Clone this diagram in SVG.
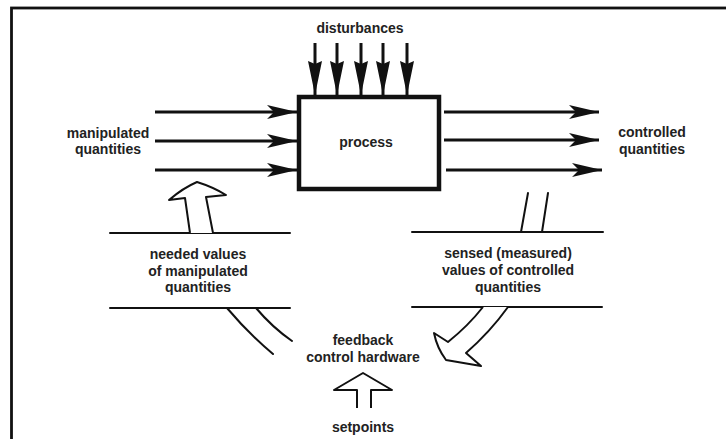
<svg xmlns="http://www.w3.org/2000/svg" width="726" height="439" viewBox="0 0 726 439">
<style>
text{font-family:"Liberation Sans",Arial,sans-serif;font-size:14px;font-weight:bold;fill:#222;text-anchor:middle}
.ln{stroke:#111;stroke-width:3;fill:none}
.thin{stroke:#111;stroke-width:2;fill:none;stroke-linejoin:round;stroke-linecap:round}
.hollow{stroke:#111;stroke-width:2;fill:#fff;stroke-linejoin:round}
</style>
<defs>
<marker id="ah" markerWidth="30" markerHeight="14" refX="30" refY="7" orient="auto" markerUnits="userSpaceOnUse">
<path d="M0,0 L30,7 L0,14 L7,7 Z" fill="#111"/>
</marker>
<marker id="dh" markerWidth="34" markerHeight="14" refX="34" refY="7" orient="auto" markerUnits="userSpaceOnUse">
<path d="M0,0 L34,7 L0,14 L3,7 Z" fill="#111"/>
</marker>
</defs>
<rect width="726" height="439" fill="#fff"/>
<rect x="11.5" y="8" width="740" height="450" fill="none" stroke="#111" stroke-width="2.8"/>

<g id="disturbances">
<text x="360" y="33">disturbances</text>
</g>
<g id="process">
<rect x="299" y="97" width="140" height="92" fill="#fff" stroke="#111" stroke-width="4.5"/>
<text x="366" y="147">process</text>
</g>
<g id="manipulated">
<text x="108" y="138">manipulated</text>
<text x="108" y="154">quantities</text>
</g>
<g id="controlled">
<text x="652" y="137">controlled</text>
<text x="652" y="154">quantities</text>
</g>
<g id="needed">
<text x="198" y="259">needed values</text>
<text x="198" y="276">of manipulated</text>
<text x="198" y="292">quantities</text>
</g>
<g id="sensed">
<text x="508" y="258">sensed (measured)</text>
<text x="508" y="275">values of controlled</text>
<text x="508" y="292">quantities</text>
</g>
<g id="feedback">
<text x="363" y="345">feedback</text>
<text x="363" y="362">control hardware</text>
</g>
<g id="setpoints">
<text x="363" y="432">setpoints</text>
</g>

<g id="connectors">
<line class="ln" x1="315" y1="43" x2="315" y2="95" marker-end="url(#dh)"/>
<line class="ln" x1="337" y1="43" x2="337" y2="95" marker-end="url(#dh)"/>
<line class="ln" x1="361" y1="43" x2="361" y2="95" marker-end="url(#dh)"/>
<line class="ln" x1="383" y1="43" x2="383" y2="95" marker-end="url(#dh)"/>
<line class="ln" x1="407" y1="43" x2="407" y2="95" marker-end="url(#dh)"/>

<line class="ln" x1="155" y1="112" x2="297" y2="112" marker-end="url(#ah)"/>
<line class="ln" x1="155" y1="141" x2="297" y2="141" marker-end="url(#ah)"/>
<line class="ln" x1="155" y1="170" x2="297" y2="170" marker-end="url(#ah)"/>

<line class="ln" x1="444" y1="112" x2="599" y2="112" marker-end="url(#ah)"/>
<line class="ln" x1="444" y1="140" x2="599" y2="140" marker-end="url(#ah)"/>
<line class="ln" x1="446" y1="170" x2="602" y2="170" marker-end="url(#ah)"/>

<line class="thin" x1="110" y1="233" x2="290" y2="233"/>
<line class="thin" x1="412" y1="232" x2="603" y2="232"/>
<line class="thin" x1="110" y1="308" x2="290" y2="308"/>
<line class="thin" x1="412" y1="307" x2="602" y2="307"/>

<path class="hollow" d="M190,233 L185,198 L169,200 Q183,188 197,182 Q213,187 226,195 L206,197 L213,233"/>
<path class="thin" d="M528,193 L521,232 M548,193 L542,232"/>
<path class="thin" d="M227,308 Q248,333 273,354 M256,308 Q272,327 292,341"/>
<path class="hollow" d="M483,307 Q468,326 448,342 L434,333 Q437,348 446,360 L481,366 L466,353 Q490,332 508,307"/>
<path class="hollow" d="M357,408 L357,390 L334,390 L363,373 L392,390 L371,390 L371,408"/>
</g>
</svg>
